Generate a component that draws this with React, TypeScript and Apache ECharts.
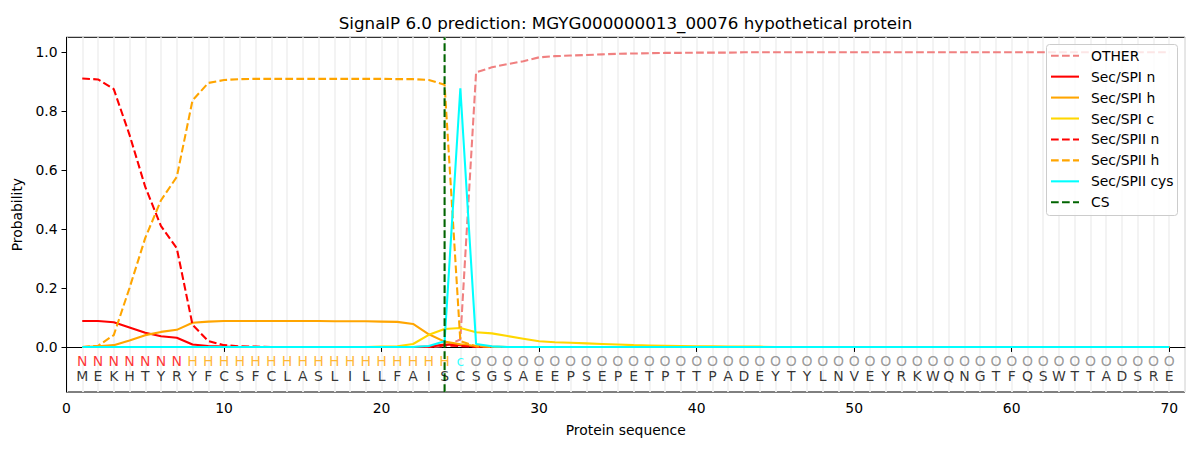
import React, { useEffect, useRef } from "react";
import * as echarts from "echarts";

const sequence = "MEKHTYRYFCSFCLASLILLFAISCSGSAEEPSEPETPTTPADEYTYLNVEYRKWQNGTFQSWTTADSRE";
const regionLabels =
  "NNNNNNN" + "HHHHHHHHHH" + "HHHHHHH" + "c" +
  "OOOOOOOOOO" + "OOOOOOOOOO" + "OOOOOOOOOO" + "OOOOOOOOOO" + "OOOOO";

const other = [
  0, 0, 0, 0, 0, 0, 0, 0, 0, 0,
  0, 0, 0, 0, 0, 0, 0, 0, 0, 0,
  0, 0, 0, 0.003, 0.025, 0.932, 0.949, 0.96, 0.97, 0.983,
  0.987, 0.989, 0.991, 0.993, 0.995, 0.996, 0.997, 0.998, 0.998, 0.999,
  0.999, 0.999, 1, 1, 1, 1, 1, 1, 1, 1,
  1, 1, 1, 1, 1, 1, 1, 1, 1, 1,
  1, 1, 1, 1, 1, 1, 1, 1, 1, 1,
];
const secSpiN = [
  0.088, 0.088, 0.084, 0.066, 0.048, 0.036, 0.031, 0.008, 0.003, 0.001,
  0, 0, 0, 0, 0, 0, 0, 0, 0, 0,
  0, 0, 0.001, 0.008, 0.006, 0.001, 0, 0, 0, 0,
  0, 0, 0, 0, 0, 0, 0, 0, 0, 0,
  0, 0, 0, 0, 0, 0, 0, 0, 0, 0,
  0, 0, 0, 0, 0, 0, 0, 0, 0, 0,
  0, 0, 0, 0, 0, 0, 0, 0, 0, 0,
];
const secSpiH = [
  0, 0.002, 0.006, 0.022, 0.04, 0.051, 0.058, 0.082, 0.086, 0.088,
  0.088, 0.088, 0.088, 0.088, 0.088, 0.088, 0.087, 0.087, 0.087, 0.086,
  0.085, 0.078, 0.043, 0.018, 0.009, 0.003, 0.001, 0, 0, 0,
  0, 0, 0, 0, 0, 0, 0, 0, 0, 0,
  0, 0, 0, 0, 0, 0, 0, 0, 0, 0,
  0, 0, 0, 0, 0, 0, 0, 0, 0, 0,
  0, 0, 0, 0, 0, 0, 0, 0, 0, 0,
];
const secSpiC = [
  0, 0, 0, 0, 0, 0, 0, 0, 0, 0,
  0, 0, 0, 0, 0, 0, 0, 0, 0, 0.001,
  0.002, 0.01, 0.041, 0.061, 0.064, 0.05, 0.046, 0.037, 0.028, 0.019,
  0.016, 0.014, 0.012, 0.01, 0.008, 0.006, 0.005, 0.004, 0.003, 0.002,
  0.002, 0.001, 0.001, 0.001, 0, 0, 0, 0, 0, 0,
  0, 0, 0, 0, 0, 0, 0, 0, 0, 0,
  0, 0, 0, 0, 0, 0, 0, 0, 0, 0,
];
const secSpiiN = [
  0.911, 0.908, 0.875, 0.72, 0.543, 0.41, 0.335, 0.075, 0.02, 0.006,
  0.002, 0.001, 0, 0, 0, 0, 0, 0, 0, 0,
  0, 0, 0, 0.005, 0.003, 0, 0, 0, 0, 0,
  0, 0, 0, 0, 0, 0, 0, 0, 0, 0,
  0, 0, 0, 0, 0, 0, 0, 0, 0, 0,
  0, 0, 0, 0, 0, 0, 0, 0, 0, 0,
  0, 0, 0, 0, 0, 0, 0, 0, 0, 0,
];
const secSpiiH = [
  0, 0.004, 0.04, 0.2, 0.37, 0.498, 0.577, 0.837, 0.896, 0.906,
  0.909, 0.91, 0.91, 0.91, 0.91, 0.91, 0.91, 0.91, 0.91, 0.91,
  0.909, 0.909, 0.906, 0.89, 0.02, 0.002, 0, 0, 0, 0,
  0, 0, 0, 0, 0, 0, 0, 0, 0, 0,
  0, 0, 0, 0, 0, 0, 0, 0, 0, 0,
  0, 0, 0, 0, 0, 0, 0, 0, 0, 0,
  0, 0, 0, 0, 0, 0, 0, 0, 0, 0,
];
const secSpiiCys = [
  0, 0, 0, 0, 0, 0, 0, 0, 0, 0,
  0, 0, 0, 0, 0, 0, 0, 0, 0, 0,
  0, 0, 0.003, 0.019, 0.878, 0.01, 0.002, 0, 0, 0,
  0, 0, 0, 0, 0, 0, 0, 0, 0, 0,
  0, 0, 0, 0, 0, 0, 0, 0, 0, 0,
  0, 0, 0, 0, 0, 0, 0, 0, 0, 0,
  0, 0, 0, 0, 0, 0, 0, 0, 0, 0,
];
const csPosition = 24;
const xTicks = [0, 10, 20, 30, 40, 50, 60, 70];
const yTicks = [0, 0.2, 0.4, 0.6, 0.8, 1.0];
const yMin = -0.153;
const yMax = 1.051;
const xMin = 0;
const xMax = 71;
const labelRowY = -0.047;
const seqRowY = -0.098;

const FONT = "DejaVu Sans";
const DASH = [7.7, 3.3];

const seriesDefs = [
  { name: "OTHER", data: other, color: "#f08080", dashed: true },
  { name: "Sec/SPI n", data: secSpiN, color: "#ff0000", dashed: false },
  { name: "Sec/SPI h", data: secSpiH, color: "#ffa500", dashed: false },
  { name: "Sec/SPI c", data: secSpiC, color: "#ffd700", dashed: false },
  { name: "Sec/SPII n", data: secSpiiN, color: "#ff0000", dashed: true },
  { name: "Sec/SPII h", data: secSpiiH, color: "#ffa500", dashed: true },
  { name: "Sec/SPII cys", data: secSpiiCys, color: "#00ffff", dashed: false },
];
const csDef = { name: "CS", color: "#006400", dashed: true };

const regionColor: Record<string, string> = {
  N: "#ff0000",
  H: "#ffa500",
  c: "#00ffff",
  O: "#808080",
};

export default function App() {
  const ref = useRef<HTMLDivElement>(null);
  useEffect(() => {
    if (!ref.current) return;
    const chart = echarts.init(ref.current, null, { renderer: "svg" });

    const lineSeries = seriesDefs.map((s) => ({
      type: "line",
      name: s.name,
      data: s.data.map((v, i) => [i + 1, v]),
      symbol: "none",
      showSymbol: false,
      lineStyle: { color: s.color, width: 2.08, type: s.dashed ? DASH : "solid" },
      itemStyle: { color: s.color },
      xAxisIndex: 0,
      yAxisIndex: 0,
      z: 3,
    }));

    const csSeries = {
      type: "line",
      name: "CS",
      data: [
        [csPosition, yMin],
        [csPosition, yMax],
      ],
      symbol: "none",
      showSymbol: false,
      lineStyle: { color: csDef.color, width: 2.08, type: DASH },
      z: 4,
    };

    const labelSeries = {
      type: "scatter",
      name: "labels",
      symbolSize: 1,
      itemStyle: { color: "rgba(0,0,0,0)" },
      silent: true,
      z: 5,
      label: { show: true, position: "inside", fontFamily: FONT, fontSize: 14 },
      data: regionLabels.split("").map((ch, i) => ({
        value: [i + 1, labelRowY],
        label: {
          show: true,
          position: "inside",
          formatter: ch,
          color: regionColor[ch],
          fontFamily: FONT,
          fontSize: 14,
        },
      })),
    };
    const seqSeries = {
      type: "scatter",
      name: "sequence",
      symbolSize: 1,
      itemStyle: { color: "rgba(0,0,0,0)" },
      silent: true,
      z: 5,
      label: { show: true, position: "inside", fontFamily: FONT, fontSize: 14 },
      data: sequence.split("").map((ch, i) => ({
        value: [i + 1, seqRowY],
        label: {
          show: true,
          position: "inside",
          formatter: ch,
          color: "#000000",
          fontFamily: FONT,
          fontSize: 14,
        },
      })),
    };

    const legendItems = [...seriesDefs, csDef];
    const legendX = 1046.5;
    const legendY = 44.5;
    const legendGraphics: any[] = [
      {
        type: "rect",
        shape: { x: legendX, y: legendY, width: 131, height: 171, r: 3 },
        style: { fill: "rgba(255,255,255,0.8)", stroke: "#cccccc", lineWidth: 1 },
        z: 100,
      },
    ];
    legendItems.forEach((it, i) => {
      const cy = 55.7 + i * 20.94;
      legendGraphics.push({
        type: "line",
        shape: { x1: 1051, y1: cy, x2: 1079, y2: cy },
        style: {
          stroke: it.color,
          lineWidth: 2.08,
          lineDash: it.dashed ? DASH : null,
        },
        z: 101,
      });
      legendGraphics.push({
        type: "text",
        x: 1091,
        y: cy,
        style: {
          text: it.name,
          fill: "#000",
          font: `13.9px "${FONT}"`,
          textAlign: "left",
          textVerticalAlign: "middle",
        },
        z: 101,
      });
    });

    chart.setOption({
      animation: false,
      backgroundColor: "#ffffff",
      textStyle: { fontFamily: FONT },
      grid: {
        left: 66.5,
        right: 15,
        top: 37.3,
        bottom: 58,
        show: true,
        borderColor: "#000",
        borderWidth: 1,
        backgroundColor: "transparent",
      },
      xAxis: [
        {
          type: "value",
          min: xMin,
          max: xMax,
          position: "bottom",
          name: "Protein sequence",
          nameLocation: "middle",
          nameGap: 31,
          nameTextStyle: { fontFamily: FONT, fontSize: 13.9, color: "#000" },
          axisLine: { show: true, lineStyle: { color: "#000", width: 1 } },
          axisTick: { show: true, length: 5, lineStyle: { color: "#000" }, customValues: xTicks },
          axisLabel: {
            show: true,
            customValues: xTicks,
            margin: 9,
            fontFamily: FONT,
            fontSize: 13.9,
            color: "#000",
            formatter: (v: number) => String(v),
          },
          splitLine: { show: false },
        },
        {
          type: "value",
          min: xMin,
          max: xMax,
          interval: 1,
          position: "top",
          axisLine: { show: false },
          axisTick: { show: false },
          axisLabel: { show: false },
          splitLine: { show: true, lineStyle: { color: "#f2f2f2", width: 1.8 } },
        },
      ],
      yAxis: {
        type: "value",
        min: yMin,
        max: yMax,
        name: "Probability",
        nameLocation: "middle",
        nameGap: 43,
        nameTextStyle: { fontFamily: FONT, fontSize: 13.9, color: "#000" },
        axisLine: { show: true, lineStyle: { color: "#000", width: 1 } },
        axisTick: { show: true, length: 5, lineStyle: { color: "#000" }, customValues: yTicks },
        axisLabel: {
          show: true,
          customValues: yTicks,
          margin: 9,
          fontFamily: FONT,
          fontSize: 13.9,
          color: "#000",
          formatter: (v: number) => v.toFixed(1),
        },
        splitLine: { show: false },
      },
      series: [...lineSeries, csSeries, labelSeries, seqSeries],
      graphic: [
        {
          type: "text",
          x: 625.5,
          y: 23,
          style: {
            text: "SignalP 6.0 prediction: MGYG000000013_00076 hypothetical protein",
            fill: "#000",
            font: `16.7px "${FONT}"`,
            textAlign: "center",
            textVerticalAlign: "middle",
          },
        },
        ...legendGraphics,
      ],
    });
    return () => chart.dispose();
  }, []);
  return (
    <div
      ref={ref}
      style={{ position: "absolute", left: 0, top: 0, width: 1200, height: 450, background: "#fff" }}
    />
  );
}
